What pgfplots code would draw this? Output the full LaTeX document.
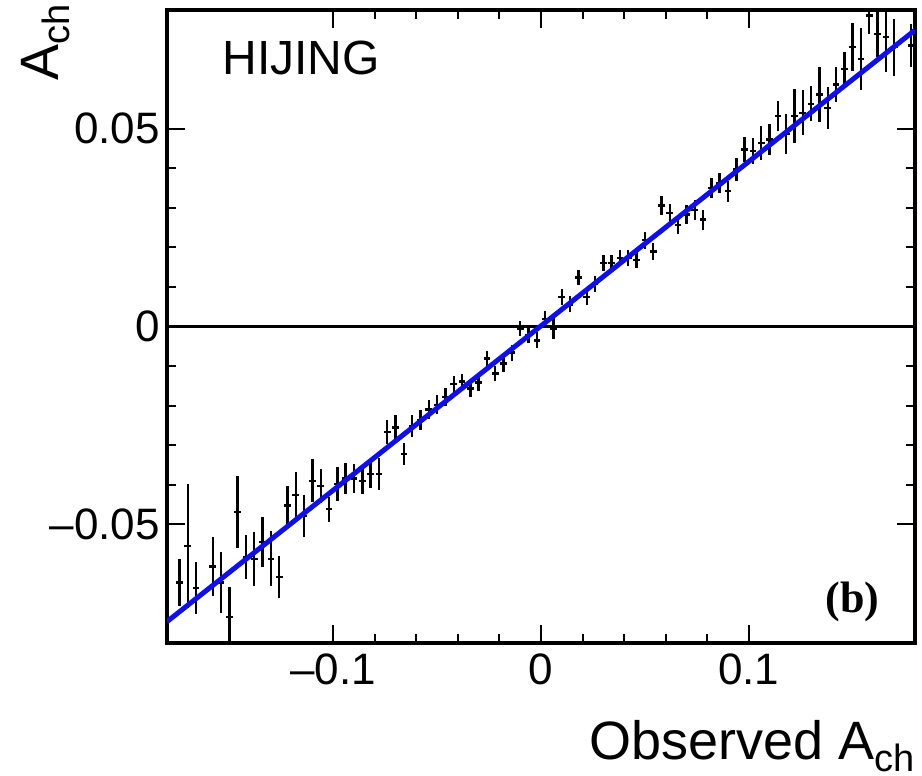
\documentclass[border=0pt]{standalone}
\usepackage{fontspec}
\setmainfont{Liberation Sans}
\newfontfamily\seriffont{Liberation Serif}
\usepackage{pgfplots}
\pgfplotsset{compat=1.18}
\usepackage{pgfplotstable}

\pgfplotstableread{
x y ex ey
-0.174 -0.0647 0.0016 0.0059
-0.170 -0.0555 0.0016 0.0156
-0.166 -0.0661 0.0016 0.0066
-0.158 -0.0607 0.0016 0.0074
-0.154 -0.0647 0.0016 0.0076
-0.150 -0.0735 0.0016 0.0076
-0.146 -0.0469 0.0016 0.0090
-0.142 -0.0582 0.0016 0.0055
-0.138 -0.0587 0.0016 0.0068
-0.134 -0.0545 0.0016 0.0063
-0.130 -0.0587 0.0016 0.0070
-0.126 -0.0633 0.0016 0.0053
-0.122 -0.0452 0.0016 0.0050
-0.118 -0.0426 0.0016 0.0057
-0.114 -0.0479 0.0016 0.0054
-0.110 -0.0390 0.0016 0.0054
-0.106 -0.0403 0.0016 0.0043
-0.102 -0.0462 0.0016 0.0032
-0.098 -0.0398 0.0016 0.0044
-0.094 -0.0384 0.0016 0.0039
-0.090 -0.0384 0.0016 0.0036
-0.086 -0.0390 0.0016 0.0034
-0.082 -0.0373 0.0016 0.0034
-0.078 -0.0373 0.0016 0.0040
-0.074 -0.0267 0.0016 0.0031
-0.070 -0.0255 0.0016 0.0032
-0.066 -0.0322 0.0016 0.0028
-0.062 -0.0252 0.0016 0.0028
-0.058 -0.0236 0.0016 0.0026
-0.054 -0.0210 0.0016 0.0025
-0.050 -0.0198 0.0016 0.0024
-0.046 -0.0178 0.0016 0.0023
-0.042 -0.0145 0.0016 0.0020
-0.038 -0.0139 0.0016 0.0020
-0.034 -0.0157 0.0016 0.0020
-0.030 -0.0142 0.0016 0.0020
-0.026 -0.0081 0.0016 0.0020
-0.022 -0.0119 0.0016 0.0020
-0.018 -0.0094 0.0016 0.0020
-0.014 -0.0066 0.0016 0.0020
-0.010 -0.0005 0.0016 0.0020
-0.006 -0.0022 0.0016 0.0020
-0.002 -0.0035 0.0016 0.0020
0.002 0.0019 0.0016 0.0020
0.006 -0.0005 0.0016 0.0027
0.010 0.0075 0.0016 0.0020
0.014 0.0056 0.0016 0.0020
0.018 0.0124 0.0016 0.0020
0.022 0.0075 0.0016 0.0020
0.026 0.0107 0.0016 0.0020
0.030 0.0160 0.0016 0.0020
0.034 0.0160 0.0016 0.0020
0.038 0.0173 0.0016 0.0020
0.042 0.0173 0.0016 0.0020
0.046 0.0168 0.0016 0.0020
0.050 0.0218 0.0016 0.0022
0.054 0.0190 0.0016 0.0022
0.058 0.0306 0.0016 0.0023
0.062 0.0287 0.0016 0.0023
0.066 0.0257 0.0016 0.0024
0.070 0.0283 0.0016 0.0024
0.074 0.0295 0.0016 0.0025
0.078 0.0270 0.0016 0.0025
0.082 0.0350 0.0016 0.0025
0.086 0.0363 0.0016 0.0026
0.090 0.0342 0.0016 0.0027
0.094 0.0397 0.0016 0.0030
0.098 0.0447 0.0016 0.0032
0.102 0.0443 0.0016 0.0033
0.106 0.0464 0.0016 0.0044
0.110 0.0473 0.0016 0.0040
0.114 0.0532 0.0016 0.0038
0.118 0.0486 0.0016 0.0050
0.122 0.0532 0.0016 0.0068
0.126 0.0540 0.0016 0.0057
0.130 0.0563 0.0016 0.0044
0.134 0.0586 0.0016 0.0070
0.138 0.0553 0.0016 0.0053
0.142 0.0612 0.0016 0.0044
0.146 0.0651 0.0016 0.0044
0.150 0.0706 0.0016 0.0060
0.154 0.0676 0.0016 0.0078
0.158 0.0786 0.0016 0.0046
0.162 0.0740 0.0016 0.0058
0.166 0.0731 0.0016 0.0089
0.170 0.0706 0.0016 0.0072
0.178 0.0710 0.0016 0.0055
}\datatable

\newcommand{\tickfont}{\fontsize{22}{26}\selectfont}
\newcommand{\labfont}{\fontsize{27}{31}\selectfont}
\newcommand{\Ach}{A\raisebox{-0.42ex}{\fontsize{19}{19}\selectfont ch}}

\begin{document}
\begin{tikzpicture}
\begin{axis}[
  at={(83.5pt,66.5pt)}, anchor=south west,
  scale only axis, width=374pt, height=316.5pt,
  xmin=-0.18, xmax=0.18, ymin=-0.08, ymax=0.08,
  xtick={-0.1,0,0.1}, xticklabels={–0.1,0,0.1},
  ytick={-0.05,0,0.05}, yticklabels={–0.05,0,0.05},
  minor x tick num=4, minor y tick num=4,
  tick align=inside,
  major tick length=9pt, minor tick length=4.5pt,
  every tick/.style={black, line width=1pt},
  axis line style={line width=2pt},
  tick label style={font=\tickfont},
  xticklabel style={yshift=-2pt},
  /pgf/number format/assume math mode=true,
]
\addplot[black, line width=1.5pt, forget plot] coordinates {(-0.18,0) (0.18,0)};
\addplot[draw=none, mark=none, forget plot,
  error bars/.cd, x dir=both, x explicit, y dir=both, y explicit,
  error bar style={draw=black, line width=1.2pt}, error mark=none]
  table[x=x, y=y, x error=ex, y error=ey] {\datatable};
\addplot[color={rgb,255:red,15;green,15;blue,235}, line width=2.5pt, forget plot] coordinates {(-0.18,-0.0746) (0.18,0.0749)};
\end{axis}
\node[anchor=base west, inner sep=0pt, font=\fontsize{24}{28}\selectfont] at (111pt,350.5pt) {HIJING};
\node[anchor=base east, inner sep=0pt, font=\seriffont\bfseries\fontsize{22}{26}\selectfont] at (440pt,81.5pt) {(b)};
\node[anchor=base east, inner sep=0pt, font=\labfont] at (457.5pt,8pt) {Observed \Ach};
\node[anchor=base east, inner sep=0pt, rotate=90, font=\labfont] at (29pt,386pt) {\Ach};
\pgfresetboundingbox
\path[use as bounding box] (0,0) rectangle (461pt,388pt);
\end{tikzpicture}
\end{document}
